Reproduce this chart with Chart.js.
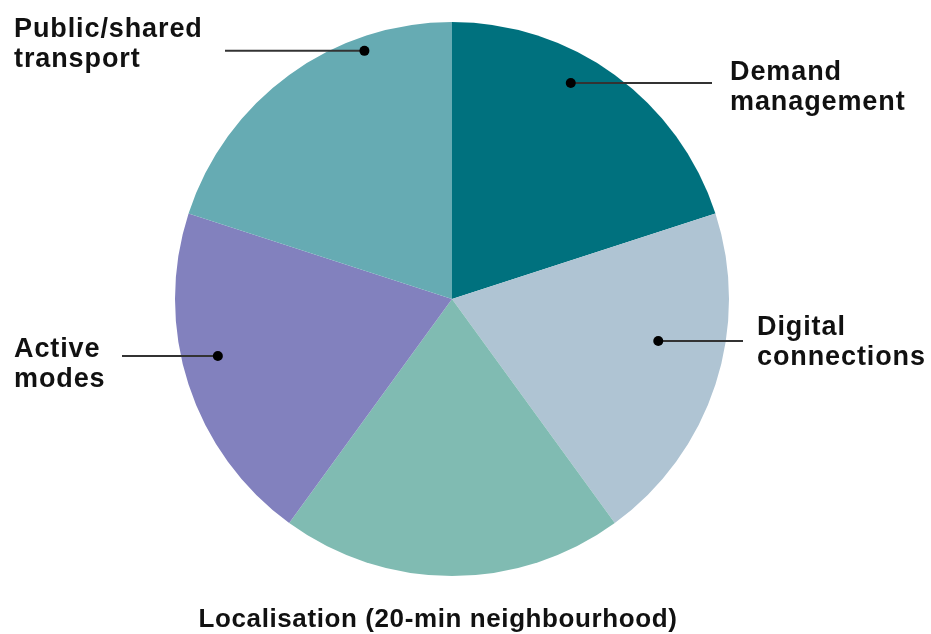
<!DOCTYPE html>
<html>
<head>
<meta charset="utf-8">
<script src="https://cdn.jsdelivr.net/npm/chart.js@4.4.0/dist/chart.umd.min.js"></script>
<style>
  body { margin: 0; background: #fff; }
  #wrap { width: 931px; height: 634px; position: relative; }
</style>
</head>
<body>
<div id="wrap"><canvas id="myChart"></canvas></div>
<script>
const categories = ['Demand management', 'Digital connections', 'Localisation (20-min neighbourhood)', 'Active modes', 'Public/shared transport'];
const shares = [20, 20, 20, 20, 20];
const sliceColors = ['#00717e', '#afc4d3', '#80bbb2', '#8281be', '#66abb3'];

// where each callout sits: text block, leader line end and dot inside the slice
const callouts = [
  { lines: ['Demand', 'management'], x: 730, y: 80, align: 'left', lineTo: 712, frac: 0.40, rad: 0.89 },
  { lines: ['Digital', 'connections'], x: 757, y: 335, align: 'left', lineTo: 743, frac: 0.41, rad: 0.76 },
  { lines: ['Localisation (20-min neighbourhood)'], x: 438, y: 627, align: 'center', lineTo: null, size: 26, spacing: 0.6 },
  { lines: ['Active', 'modes'], x: 14, y: 357, align: 'left', lineTo: 122, frac: 0.56, rad: 0.87 },
  { lines: ['Public/shared', 'transport'], x: 14, y: 37, align: 'left', lineTo: 225, frac: 0.73, rad: 0.95 }
];

const calloutPlugin = {
  id: 'callouts',
  afterDraw(chart) {
    const c = chart.ctx;
    const arcs = chart.getDatasetMeta(0).data;
    c.save();
    callouts.forEach((co, i) => {
      const arc = arcs[i];
      if (co.lineTo !== null) {
        const a = arc.startAngle + co.frac * (arc.endAngle - arc.startAngle);
        const px = arc.x + Math.cos(a) * arc.outerRadius * co.rad;
        const py = arc.y + Math.sin(a) * arc.outerRadius * co.rad;
        c.strokeStyle = '#333';
        c.lineWidth = 2;
        c.beginPath();
        c.moveTo(px, py);
        c.lineTo(co.lineTo, py);
        c.stroke();
        c.fillStyle = '#000';
        c.beginPath();
        c.arc(px, py, 5, 0, Math.PI * 2);
        c.fill();
      }
      c.fillStyle = '#111';
      c.font = 'bold ' + (co.size || 27) + 'px "Liberation Sans", Arial, sans-serif';
      c.letterSpacing = (co.spacing !== undefined ? co.spacing : 0.9) + 'px';
      c.textAlign = co.align;
      c.textBaseline = 'alphabetic';
      co.lines.forEach((t, k) => c.fillText(t, co.x, co.y + k * 30));
    });
    c.restore();
  }
};

new Chart(document.getElementById('myChart'), {
  type: 'pie',
  data: {
    labels: categories,
    datasets: [{
      data: shares,
      backgroundColor: sliceColors,
      borderWidth: 0
    }]
  },
  options: {
    responsive: true,
    maintainAspectRatio: false,
    animation: false,
    layout: { padding: { top: 22, bottom: 58, left: 0, right: 27 } },
    plugins: {
      legend: { display: false },
      tooltip: { enabled: false }
    }
  },
  plugins: [calloutPlugin]
});
</script>
</body>
</html>
